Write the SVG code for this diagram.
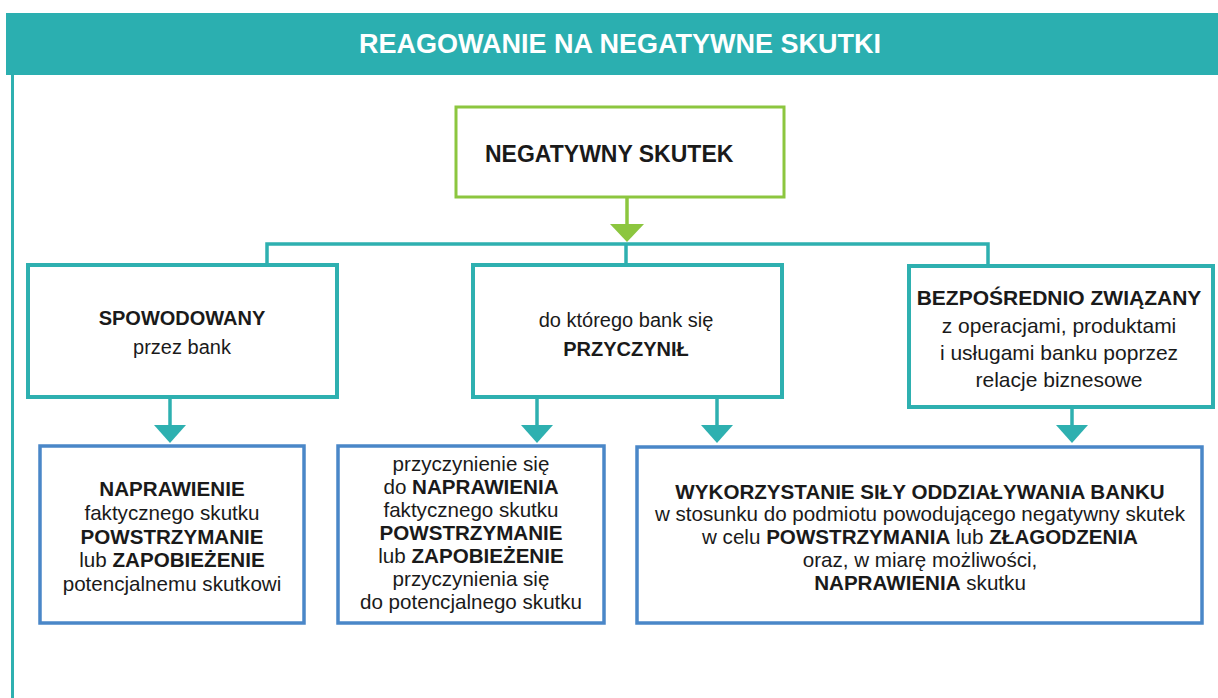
<svg xmlns="http://www.w3.org/2000/svg" width="1218" height="698" viewBox="0 0 1218 698">
<style>
text{font-family:"Liberation Sans",Arial,sans-serif;fill:#1a1a1a;text-anchor:middle;font-size:20px}
.b{font-weight:bold}
.lg{font-size:20.6px}
.hdr{fill:#ffffff;font-weight:bold;font-size:27px}
.teal{fill:#ffffff;stroke:#2eb0b0;stroke-width:4}
.blue{fill:#ffffff;stroke:#4a87c8;stroke-width:3.5}
.green{fill:#ffffff;stroke:#8cc63f;stroke-width:3}
.conn{stroke:#2eb0b0;stroke-width:3.5;fill:none}
.gconn{stroke:#8cc63f;stroke-width:3.5;fill:none}
</style>
<defs>
<marker id="at" viewBox="0 0 18 32" refX="0" refY="16" markerWidth="18" markerHeight="32" markerUnits="userSpaceOnUse" orient="auto">
<path d="M0,0 L18,16 L0,32 z" fill="#2eb0b0"/>
</marker>
<marker id="ag" viewBox="0 0 18 34" refX="0" refY="17" markerWidth="18" markerHeight="34" markerUnits="userSpaceOnUse" orient="auto">
<path d="M0,0 L18,17 L0,34 z" fill="#8cc63f"/>
</marker>
</defs>
<rect width="1218" height="698" fill="#ffffff"/>
<g id="header">
<rect x="6" y="13" width="1212" height="62" fill="#2bafb0"/>
<line x1="12.5" y1="75" x2="12.5" y2="698" stroke="#2eb0b0" stroke-width="3"/>
<text class="hdr" x="620" y="53">REAGOWANIE NA NEGATYWNE SKUTKI</text>
</g>
<g id="connectors">
<line class="gconn" x1="627" y1="197" x2="627" y2="224" marker-end="url(#ag)"/>
<polyline class="conn" points="267,265 267,244 988,244 988,266"/>
<line class="conn" x1="626" y1="244" x2="626" y2="265"/>
<line class="conn" x1="170" y1="397" x2="170" y2="425" marker-end="url(#at)"/>
<line class="conn" x1="537" y1="397" x2="537" y2="425" marker-end="url(#at)"/>
<line class="conn" x1="717" y1="397" x2="717" y2="425" marker-end="url(#at)"/>
<line class="conn" x1="1072" y1="407" x2="1072" y2="425" marker-end="url(#at)"/>
</g>
<g id="negatywny">
<rect class="green" x="456" y="107" width="328" height="90"/>
<text class="b" x="485" y="162" style="text-anchor:start;font-size:23px">NEGATYWNY SKUTEK</text>
</g>
<g id="spowodowany">
<rect class="teal" x="28" y="265" width="309" height="132"/>
<text class="b" x="182" y="325">SPOWODOWANY</text>
<text x="182" y="354">przez bank</text>
</g>
<g id="przyczynil">
<rect class="teal" x="473" y="265" width="309" height="132"/>
<text x="626" y="327">do którego bank się</text>
<text class="b" x="626" y="356">PRZYCZYNIŁ</text>
</g>
<g id="bezposrednio">
<rect class="teal" x="909" y="266" width="304" height="141"/>
<text class="b" x="1059" y="305" style="font-size:21px">BEZPOŚREDNIO ZWIĄZANY</text>
<text x="1059" y="333" style="font-size:21px">z operacjami, produktami</text>
<text x="1059" y="360" style="font-size:21px">i usługami banku poprzez</text>
<text x="1059" y="387" style="font-size:21px">relacje biznesowe</text>
</g>
<g id="naprawienie">
<rect class="blue" x="40" y="446" width="264" height="177"/>
<text class="b lg" x="172" y="496">NAPRAWIENIE</text>
<text class="lg" x="172" y="520">faktycznego skutku</text>
<text class="b lg" x="172" y="544">POWSTRZYMANIE</text>
<text class="lg" x="172" y="567">lub <tspan class="b">ZAPOBIEŻENIE</tspan></text>
<text class="lg" x="172" y="591">potencjalnemu skutkowi</text>
</g>
<g id="przyczynienie">
<rect class="blue" x="338" y="446" width="266" height="177"/>
<text class="lg" x="471" y="471">przyczynienie się</text>
<text class="lg" x="471" y="494">do <tspan class="b">NAPRAWIENIA</tspan></text>
<text class="lg" x="471" y="517">faktycznego skutku</text>
<text class="b lg" x="471" y="540">POWSTRZYMANIE</text>
<text class="lg" x="471" y="563">lub <tspan class="b">ZAPOBIEŻENIE</tspan></text>
<text class="lg" x="471" y="586">przyczynienia się</text>
<text class="lg" x="471" y="609">do potencjalnego skutku</text>
</g>
<g id="wykorzystanie">
<rect class="blue" x="637" y="447" width="565" height="176"/>
<text class="b lg" x="920" y="499">WYKORZYSTANIE SIŁY ODDZIAŁYWANIA BANKU</text>
<text class="lg" x="920" y="521">w stosunku do podmiotu powodującego negatywny skutek</text>
<text class="lg" x="920" y="544">w celu <tspan class="b">POWSTRZYMANIA</tspan> lub <tspan class="b">ZŁAGODZENIA</tspan></text>
<text class="lg" x="920" y="567">oraz, w miarę możliwości,</text>
<text class="lg" x="920" y="590"><tspan class="b">NAPRAWIENIA</tspan> skutku</text>
</g>
</svg>
